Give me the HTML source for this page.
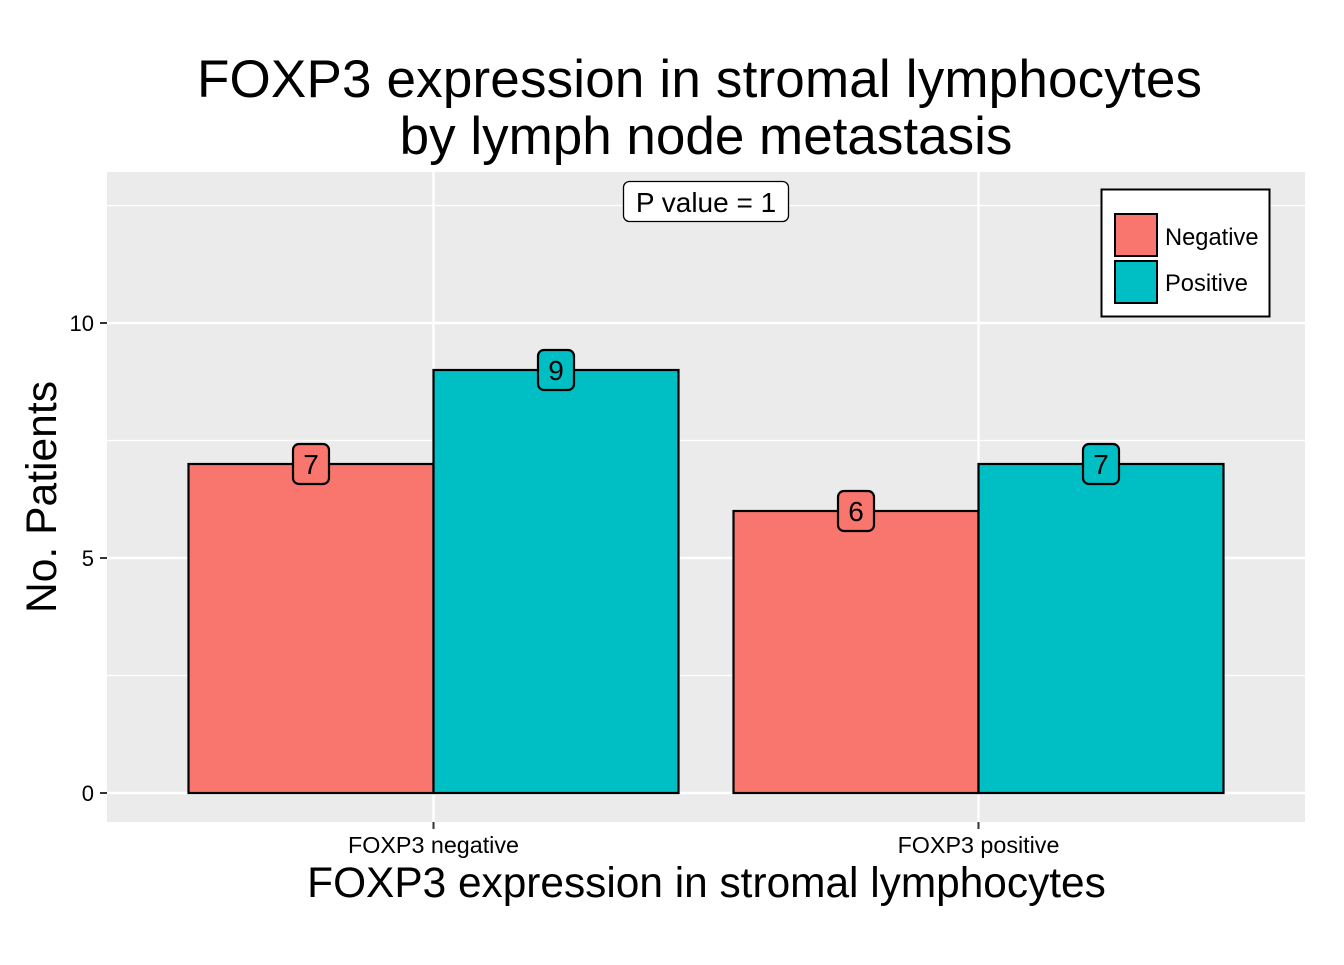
<!DOCTYPE html>
<html><head><meta charset="utf-8"><style>
body{margin:0;background:#fff;font-family:"Liberation Sans",Arial,sans-serif}
svg text{font-family:"Liberation Sans",Arial,sans-serif}
</style></head><body>
<svg id="chart" width="1344" height="960" xmlns="http://www.w3.org/2000/svg">
<text x="699.5" y="97" font-size="53" text-anchor="middle" textLength="1005">FOXP3 expression in stromal lymphocytes</text>
<text x="706" y="154" font-size="53" text-anchor="middle">by lymph node metastasis</text>
<rect x="107" y="172" width="1198" height="650" fill="#ebebeb"/>
<g id="grid"></g>
<g id="bars"></g>
<g id="labels"></g>
<g id="axes"></g>
<g>
<rect x="623.5" y="181.5" width="165" height="40" rx="6" fill="#fff" stroke="#000" stroke-width="1.3"/>
<text x="706" y="212" font-size="28" text-anchor="middle">P value = 1</text>
</g>
<g>
<rect x="1101.5" y="189.5" width="168" height="127" fill="#fff" stroke="#000" stroke-width="2"/>
<rect x="1115" y="214" width="42" height="42" fill="#f8766d" stroke="#000" stroke-width="2"/>
<text x="1165" y="245" font-size="23.7">Negative</text>
<rect x="1115" y="261" width="42" height="42" fill="#00bfc4" stroke="#000" stroke-width="2"/>
<text x="1165" y="291" font-size="23.7">Positive</text>
</g>
<text x="706.5" y="897" font-size="42.4" text-anchor="middle">FOXP3 expression in stromal lymphocytes</text>
<text transform="translate(56,497) rotate(-90)" font-size="42.6" text-anchor="middle">No. Patients</text>
</svg>
<script>
const categories=["FOXP3 negative","FOXP3 positive"];
const negativeValues=[7,6];
const positiveValues=[9,7];
const yTicks=[0,5,10];
const NS="http://www.w3.org/2000/svg";
function y(v){return 793-47*v;}
function xc(i){return 433.5+545*i;}
function mk(t,a,p){const e=document.createElementNS(NS,t);for(const k in a)e.setAttribute(k,a[k]);p.appendChild(e);return e;}
const grid=document.getElementById('grid'),bars=document.getElementById('bars'),labels=document.getElementById('labels'),axes=document.getElementById('axes');
for(let v=0;v<=12.5;v+=2.5){const minor=v%5!==0;
const l=mk('line',{x1:107,x2:1305,y1:y(v),y2:y(v),stroke:'#fff','stroke-width':minor?1.2:2.4},grid);

}
categories.forEach((c,i)=>{const l=mk('line',{x1:xc(i),x2:xc(i),y1:172,y2:822,stroke:'#fff','stroke-width':2.4},grid);


const t=mk('line',{x1:xc(i),x2:xc(i),y1:822,y2:829,stroke:'#333','stroke-width':2},axes);


const tx=mk('text',{x:xc(i),y:853,'font-size':23.3,'text-anchor':'middle',fill:'#000'},axes);tx.textContent=c;

});
yTicks.forEach(v=>{const t=mk('line',{x1:100,x2:107,y1:y(v),y2:y(v),stroke:'#333','stroke-width':2},axes);


const tx=mk('text',{x:94,y:y(v)+8,'font-size':22,'text-anchor':'end',fill:'#000'},axes);tx.textContent=v;

});
const bw=245;
function drawBar(i,v,off,col,name){const x0=xc(i)+off;
const r=mk('rect',{x:x0,y:y(v),width:bw,height:y(0)-y(v),fill:col,stroke:'#000','stroke-width':2.2},bars);


const cx=x0+bw/2;
const g=mk('g',{},labels);


mk('rect',{x:cx-18,y:y(v)-20,width:36,height:40,rx:6,fill:col,stroke:'#000','stroke-width':2.2},g);
const t=mk('text',{x:cx,y:y(v)+10,'font-size':28,'text-anchor':'middle'},g);t.textContent=v;}
categories.forEach((c,i)=>{drawBar(i,negativeValues[i],-bw,'#f8766d','bar-negative-'+i);drawBar(i,positiveValues[i],0,'#00bfc4','bar-positive-'+i);});
</script>
</body></html>
